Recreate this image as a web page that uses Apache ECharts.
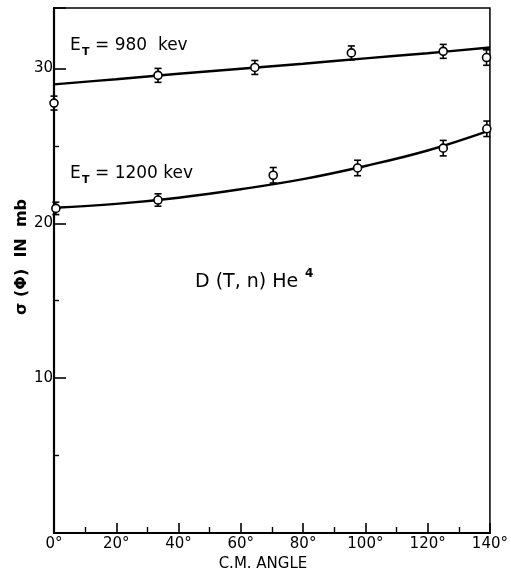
<!DOCTYPE html>
<html><head><meta charset="utf-8">
<script src="https://cdn.jsdelivr.net/npm/echarts@6/dist/echarts.min.js"></script>
<style>html,body{margin:0;padding:0;background:#fff}#c{width:511px;height:577px}</style>
</head><body><div id="c"></div>
<script>
// Measured points (angle deg, sigma mb, error mb)
const angles980 = [0, 33.4, 64.5, 95.5, 125, 138.9];
const sigma980  = [27.76, 29.55, 30.06, 31.0, 31.1, 30.7];
const err980    = [0.45, 0.45, 0.45, 0.45, 0.45, 0.5];
const angles1200 = [0.6, 33.4, 70.4, 97.5, 125, 139];
const sigma1200  = [20.96, 21.5, 23.1, 23.57, 24.85, 26.1];
const err1200    = [0.4, 0.4, 0.5, 0.5, 0.5, 0.5];
// Fitted curves
const fitAngles = [0, 20, 40, 60, 80, 100, 120, 140];
const fit980  = [28.97, 29.3, 29.65, 29.98, 30.3, 30.65, 30.98, 31.35];
const fit1200 = [21.0, 21.25, 21.65, 22.2, 22.85, 23.7, 24.7, 26.0];
const xTicks = [0, 20, 40, 60, 80, 100, 120, 140];
const yTicks = [10, 20, 30];

const FONT = 'DejaVu Sans';
const pts = (xs, ys) => xs.map((x, i) => [x, ys[i]]);
const errData = (xs, ys, es) => xs.map((x, i) => [x, ys[i] - es[i], ys[i] + es[i]]);

function errRender(params, api) {
  const x = api.value(0);
  const lo = api.coord([x, api.value(1)]);
  const hi = api.coord([x, api.value(2)]);
  const w = 3.5;
  const st = {stroke: '#000', lineWidth: 1.6};
  return {type: 'group', children: [
    {type: 'line', shape: {x1: lo[0], y1: lo[1], x2: hi[0], y2: hi[1]}, style: st},
    {type: 'line', shape: {x1: lo[0]-w, y1: lo[1], x2: lo[0]+w, y2: lo[1]}, style: st},
    {type: 'line', shape: {x1: hi[0]-w, y1: hi[1], x2: hi[0]+w, y2: hi[1]}, style: st}
  ]};
}

const chart = echarts.init(document.getElementById('c'));
const lineSeries = (d) => ({type: 'line', data: d, smooth: 0.4, symbol: 'none',
  lineStyle: {color: '#000', width: 2.4}, z: 2});
const pointSeries = (d) => ({type: 'scatter', data: d, symbol: 'circle', symbolSize: 8,
  itemStyle: {color: '#fff', opacity: 1, borderColor: '#000', borderWidth: 1.6}, z: 4});
const errSeries = (d) => ({type: 'custom', data: d, renderItem: errRender, z: 3,
  encode: {x: 0, y: [1, 2]}});

const txt = (x, y, s, size, extra) => Object.assign({type: 'text', x: x, y: y,
  style: Object.assign({text: s, fill: '#000', font: (extra && extra.bold ? 'bold ' : '') + size + 'px "' + FONT + '"'},
    extra && extra.style || {})}, extra && extra.el || {});

chart.setOption({
  animation: false,
  backgroundColor: '#fff',
  grid: {left: 54, right: 18, top: 8, bottom: 40, show: true, borderColor: '#000', borderWidth: 1.5},
  xAxis: {
    type: 'value', min: 0, max: 140, interval: 20,
    axisLine: {show: true, lineStyle: {color: '#000', width: 2.2}},
    axisTick: {show: true, inside: true, length: 10, lineStyle: {color: '#000', width: 1.6}},
    minorTick: {show: true, splitNumber: 2, length: 6, lineStyle: {color: '#000', width: 1.4}},
    splitLine: {show: false},
    axisLabel: {color: '#000', fontFamily: FONT, fontSize: 15, margin: 4,
      formatter: v => xTicks.includes(v) ? v + '°' : ''},
    name: 'C.M. ANGLE', nameLocation: 'middle', nameGap: 24,
    nameTextStyle: {color: '#000', fontFamily: FONT, fontSize: 15, padding: [0, 18, 0, 0]}
  },
  yAxis: {
    type: 'value', min: 0, max: 33.9, interval: 10,
    axisLine: {show: true, lineStyle: {color: '#000', width: 2.2}},
    axisTick: {show: true, inside: true, length: 12, lineStyle: {color: '#000', width: 1.6}},
    minorTick: {show: true, splitNumber: 2, length: 5, lineStyle: {color: '#000', width: 1.4}},
    splitLine: {show: false},
    axisLabel: {color: '#000', fontFamily: FONT, fontSize: 15, margin: 1,
      formatter: v => yTicks.includes(v) ? String(v) : ''}
  },
  graphic: [
    txt(70, 37, 'E', 17),
    txt(82, 47, 'T', 11, {bold: true}),
    txt(95, 37, '= 980  kev', 17),
    txt(70, 165, 'E', 17),
    txt(82, 175, 'T', 11, {bold: true}),
    txt(95, 165, '= 1200 kev', 17),
    txt(195, 273, 'D (T, n) He', 19, {style: {}}),
    txt(305, 268, '4', 12, {bold: true}),
    txt(22, 257, 'σ (Φ)  IN  mb', 16, {bold: true,
      style: {align: 'center', verticalAlign: 'middle'}, el: {rotation: Math.PI / 2}})
  ],
  series: [
    lineSeries(pts(fitAngles, fit980)),
    lineSeries(pts(fitAngles, fit1200)),
    errSeries(errData(angles980, sigma980, err980)),
    errSeries(errData(angles1200, sigma1200, err1200)),
    pointSeries(pts(angles980, sigma980)),
    pointSeries(pts(angles1200, sigma1200))
  ]
});
</script></body></html>
